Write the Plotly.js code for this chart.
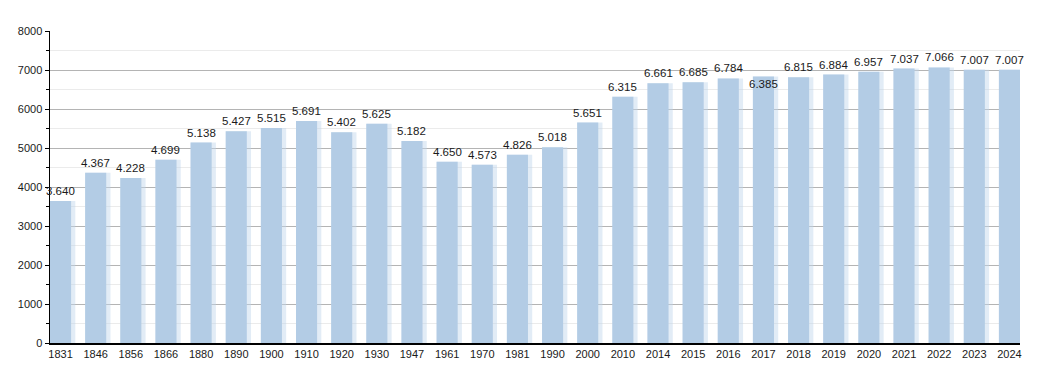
<!DOCTYPE html>
<html>
<head>
<meta charset="utf-8">
<script src="https://cdn.plot.ly/plotly-3.0.1.min.js"></script>
<style>html,body{margin:0;padding:0;background:#fff;}#chart{width:1050px;height:373px;}</style>
</head>
<body>
<div id="chart"></div>
<script>
const years = ["1831","1846","1856","1866","1880","1890","1900","1910","1920","1930","1947","1961","1970","1981","1990","2000","2010","2014","2015","2016","2017","2018","2019","2020","2021","2022","2023","2024"];
const population = [3640,4367,4228,4699,5138,5427,5515,5691,5402,5625,5182,4650,4573,4826,5018,5651,6315,6661,6685,6784,6835,6815,6884,6957,7037,7066,7007,7007];
const labelValues = [3640,4367,4228,4699,5138,5427,5515,5691,5402,5625,5182,4650,4573,4826,5018,5651,6315,6661,6685,6784,6385,6815,6884,6957,7037,7066,7007,7007];
const labelTexts = ["3.640","4.367","4.228","4.699","5.138","5.427","5.515","5.691","5.402","5.625","5.182","4.650","4.573","4.826","5.018","5.651","6.315","6.661","6.685","6.784","6.385","6.815","6.884","6.957","7.037","7.066","7.007","7.007"];

const xs = years.map((y, i) => i);

const shadow = {
  type: 'bar', x: xs, y: population, width: 0.72, offset: -0.3,
  marker: {color: 'rgba(190,212,234,0.45)', line: {width: 0}},
  hoverinfo: 'skip', showlegend: false
};
const bars = {
  type: 'bar', x: xs, y: population, width: 0.6,
  marker: {color: '#b3cce5', line: {width: 0}},
  showlegend: false
};

const annotations = xs.map((x, i) => ({
  x: x, y: labelValues[i], text: labelTexts[i], xref: 'x', yref: 'y',
  showarrow: false, yanchor: 'bottom', yshift: 2,
  font: {family: 'Liberation Sans, Arial, sans-serif', size: 11.5, color: '#1a1a1a'}
}));

const layout = {
  width: 1050, height: 373,
  margin: {l: 50, r: 30, t: 31, b: 30},
  paper_bgcolor: '#fff', plot_bgcolor: '#fff',
  barmode: 'overlay', showlegend: false,
  font: {family: 'Liberation Sans, Arial, sans-serif', size: 11, color: '#1a1a1a'},
  annotations: annotations,
  xaxis: {
    range: [-0.3, 27.3], tickmode: 'array', tickvals: xs, ticktext: years,
    showgrid: false, zeroline: false, showline: true, linecolor: '#000', linewidth: 1.5,
    ticks: '', tickfont: {size: 11}, fixedrange: true
  },
  yaxis: {
    range: [0, 8000], dtick: 1000, tickformat: 'd',
    showgrid: true, gridcolor: '#b4b4b4', gridwidth: 1,
    zeroline: false, showline: true, linecolor: '#000', linewidth: 1.5,
    ticks: 'outside', ticklen: 4, tickcolor: '#000', tickfont: {size: 11},
    minor: {dtick: 500, showgrid: true, gridcolor: '#ebebeb', gridwidth: 1, ticks: 'outside', ticklen: 3, tickcolor: '#000'},
    fixedrange: true
  }
};

Plotly.newPlot('chart', [shadow, bars], layout, {displayModeBar: false, staticPlot: true});
</script>
</body>
</html>
